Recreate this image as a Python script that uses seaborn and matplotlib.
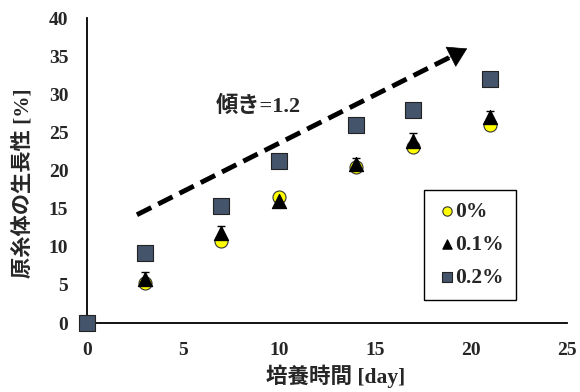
import matplotlib
matplotlib.use("Agg")
import matplotlib.pyplot as plt
import seaborn as sns
import pandas as pd

days = [0, 3, 7, 10, 14, 17, 21]
growth_0 = [0, 5.2, 10.7, 16.5, 20.4, 23.1, 26.0]
growth_01 = [0, 5.8, 11.8, 16.0, 20.8, 23.9, 27.0]
growth_01_err = [0, 0.9, 0.9, 0.5, 0.9, 1.0, 0.8]
growth_02 = [0, 9.2, 15.4, 21.3, 26.0, 28.0, 32.0]
series_labels = ["0%", "0.1%", "0.2%"]
trend_x = [2.6, 19.8]
trend_y = [14.2, 36.0]
trend_text = "傾き=1.2"
xlabel = "培養時間 [day]"
ylabel = "原糸体の生長性 [%]"
xticks = [0, 5, 10, 15, 20, 25]
yticks = [0, 5, 10, 15, 20, 25, 30, 35, 40]

sns.set_theme(style="white")
fam = ["Liberation Serif", "Noto Sans CJK JP"]
plt.rcParams["font.family"] = fam

fig = plt.figure(figsize=(5.8, 3.92), dpi=100)
ax = fig.add_axes([0.15, 0.176, 0.8276, 0.778])

df0 = pd.DataFrame({"day": days, "v": growth_0})
df1 = pd.DataFrame({"day": days, "v": growth_01})
df2 = pd.DataFrame({"day": days, "v": growth_02})

ax.errorbar(days[1:], growth_01[1:], yerr=growth_01_err[1:], fmt="none",
            ecolor="black", elinewidth=1, capsize=3, zorder=2)
sns.scatterplot(data=df0, x="day", y="v", ax=ax, marker="o", s=88,
                color="#FFFF00", edgecolor="#333333", linewidth=0.8,
                label=series_labels[0], zorder=3, clip_on=False)
sns.scatterplot(data=df1, x="day", y="v", ax=ax, marker="^", s=105,
                color="black", edgecolor="black", linewidth=0.8,
                label=series_labels[1], zorder=4, clip_on=False)
sns.scatterplot(data=df2, x="day", y="v", ax=ax, marker="s", s=118,
                color="#44546A", edgecolor="#222222", linewidth=0.8,
                label=series_labels[2], zorder=5, clip_on=False)

# trend arrow
frac = 0.95
mx = trend_x[0] + (trend_x[1] - trend_x[0]) * frac
my = trend_y[0] + (trend_y[1] - trend_y[0]) * frac
ax.plot([trend_x[0], mx], [trend_y[0], my], color="black", lw=3.5,
        dashes=(3.3, 1.6), solid_capstyle="butt", dash_capstyle="butt", zorder=2)
ax.annotate("", xy=(trend_x[1], trend_y[1]),
            xytext=(trend_x[1] - (trend_x[1] - trend_x[0]) * 0.06,
                    trend_y[1] - (trend_y[1] - trend_y[0]) * 0.06),
            arrowprops=dict(arrowstyle="-|>,head_length=0.9,head_width=0.55",
                            color="black", lw=0.5, mutation_scale=14, shrinkA=0, shrinkB=0))
ax.text(6.7, 28.4, trend_text, fontsize=16, fontweight="bold", family=fam,
        ha="left", va="center")

ax.set_xlim(0, 25)
ax.set_ylim(0, 40)
ax.set_xticks(xticks)
ax.set_yticks(yticks)
ax.set_xlabel(xlabel, fontsize=15.5, fontweight="bold", family=fam)
ax.set_ylabel(ylabel, fontsize=15.3, fontweight="bold", family=fam)
ax.xaxis.set_label_coords(0.519, -0.137)
ax.yaxis.set_label_coords(-0.112, 0.46)
for lab in ax.get_xticklabels() + ax.get_yticklabels():
    lab.set_fontweight("bold")
    lab.set_fontsize(14)
    lab.set_family(fam)
ax.tick_params(direction="in", length=5, width=1, color="black", pad=13.5)
for s in ["top", "right"]:
    ax.spines[s].set_visible(False)
for s in ["left", "bottom"]:
    ax.spines[s].set_color("black")
    ax.spines[s].set_linewidth(1.3)
    ax.spines[s].set_zorder(1)

leg = ax.legend(loc="upper left", bbox_to_anchor=(0.702, 0.436), frameon=True,
                fancybox=False, edgecolor="black", framealpha=1,
                prop={"family": fam, "weight": "bold", "size": 15.5},
                labelspacing=0.6, handletextpad=-0.1, handlelength=1.0,
                borderpad=0.55, borderaxespad=0)
leg.get_frame().set_linewidth(1.0)
for h in leg.legend_handles:
    h.set_sizes([45])

fig.savefig("out.png", dpi=100)
